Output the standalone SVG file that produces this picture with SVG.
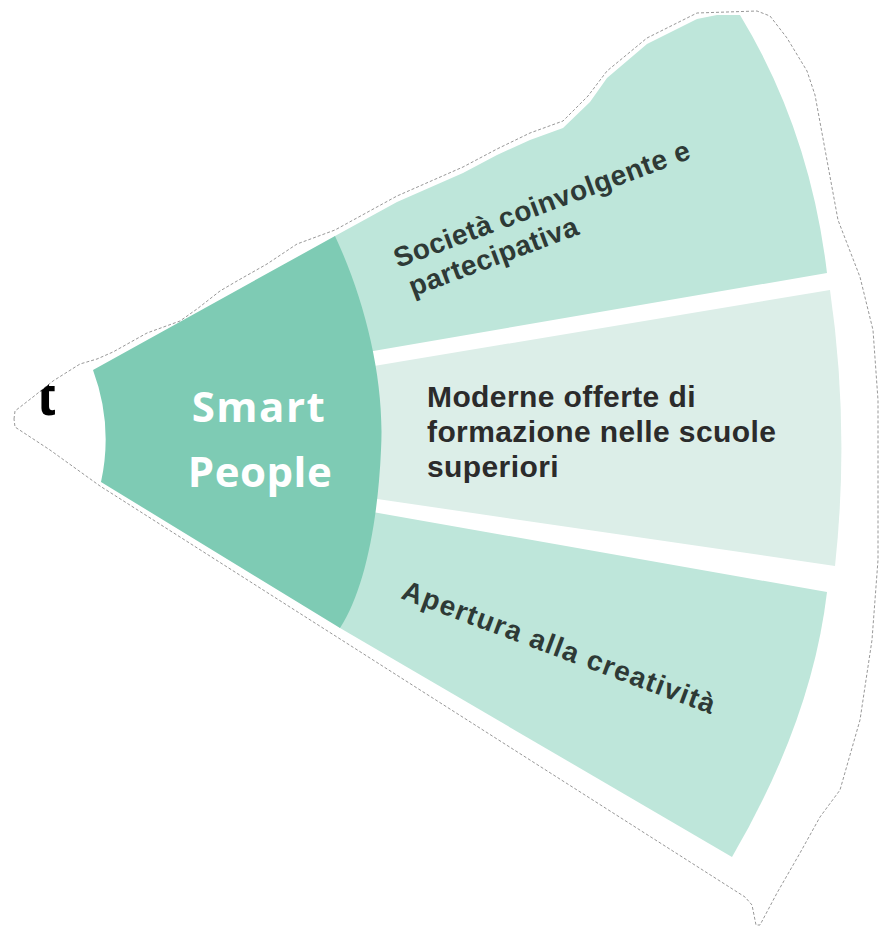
<svg xmlns="http://www.w3.org/2000/svg" width="879" height="928" viewBox="0 0 879 928">
  <style>
    .outline { fill: #ffffff; stroke: #8c8c8c; stroke-width: 0.9; stroke-dasharray: 3 2; }
    .core { fill: #7ECBB4; }
    .band { fill: #BEE6DA; }
    .band-light { fill: #DCEEE8; }
    .core-label { font-family: "Open Sans", "Liberation Sans", sans-serif; font-weight: 700; font-size: 42px; fill: #ffffff; text-anchor: middle; }
    .label { font-family: "Liberation Sans", Arial, sans-serif; font-weight: 700; font-size: 28px; fill: #2E3A36; }
    .label-mid { font-family: "Liberation Sans", Arial, sans-serif; font-weight: 700; font-size: 30px; fill: #2b2b2b; letter-spacing: 0.4px; }
    .cut { font-family: "Liberation Sans", Arial, sans-serif; font-weight: 700; font-size: 56px; fill: #000000; }
  </style>
  <defs>
    <clipPath id="outerClip">
      <path d="M14,419 L15,411 L33,397 L53,381 L80,364 L97,359 L113,352 L147,333 L180,321 L197,309 L220,291 L237,281 L267,264 L297,244 L335,230 L397,196 L463,167 L497,149 L530,133 L563,121 L588,96 L607,71 L647,38 L697,13 L757,11 L770,16 L787,38 L807,71 L815,95 L838,220 L860,277 L873,330 L878,400 L878,560 L872,640 L860,720 L840,790 L820,817 L800,853 L777,893 L760,925 L756,925 L752,905 L745,897 L100,486 L50,450 L15,427 Z"/>
    </clipPath>
  </defs>

  <g id="outline">
    <path class="outline" d="M14,419 L15,411 L33,397 L53,381 L80,364 L97,359 L113,352 L147,333 L180,321 L197,309 L220,291 L237,281 L267,264 L297,244 L335,230 L397,196 L463,167 L497,149 L530,133 L563,121 L588,96 L607,71 L647,38 L697,13 L757,11 L770,16 L787,38 L807,71 L815,95 L838,220 L860,277 L873,330 L878,400 L878,560 L872,640 L860,720 L840,790 L820,817 L800,853 L777,893 L760,925 L756,925 L752,905 L745,897 L100,486 L50,450 L15,427 Z"/>
    <text class="cut" x="37" y="415" clip-path="url(#outerClip)">t</text>
  </g>

  <g id="band-societa">
    <path class="band" d="M330,240 L335,236 L397,202 L463,173 L497,155 L530,140 L563,128 L590,102 L607,78 L647,44 L697,19 L717,15 L740,15 Q810,130 827,273 L350,355 L330,250 Z"/>
    <g transform="translate(398,268) rotate(-20.5)">
      <text class="label" x="0" y="0" letter-spacing="0.5">Società coinvolgente e</text>
      <text class="label" x="4" y="32" letter-spacing="0.5">partecipativa</text>
    </g>
  </g>

  <g id="band-moderne">
    <path class="band-light" d="M350,370 L830,290 Q850,428 835,566 L350,495 Z"/>
    <text class="label-mid" x="427" y="407">Moderne offerte di</text>
    <text class="label-mid" x="427" y="442">formazione nelle scuole</text>
    <text class="label-mid" x="427" y="477">superiori</text>
  </g>

  <g id="band-apertura">
    <path class="band" d="M350,508 L827,592 Q812,720 732,857 L340,628 L320,612 Z"/>
    <g transform="translate(400,598) rotate(20.5)">
      <text class="label" x="0" y="0" letter-spacing="1.3">Apertura alla creatività</text>
    </g>
  </g>

  <g id="smart-people">
    <path class="core" d="M93,370 L335,236 C365,300 385,380 381,450 C378,520 365,590 340,628 L101,482 A200,200 0 0 0 93,370 Z"/>
    <text class="core-label" x="259" y="422" letter-spacing="1.5">Smart</text>
    <text class="core-label" x="260" y="487" letter-spacing="0.5">People</text>
  </g>

  <g id="connectors"/>
</svg>
